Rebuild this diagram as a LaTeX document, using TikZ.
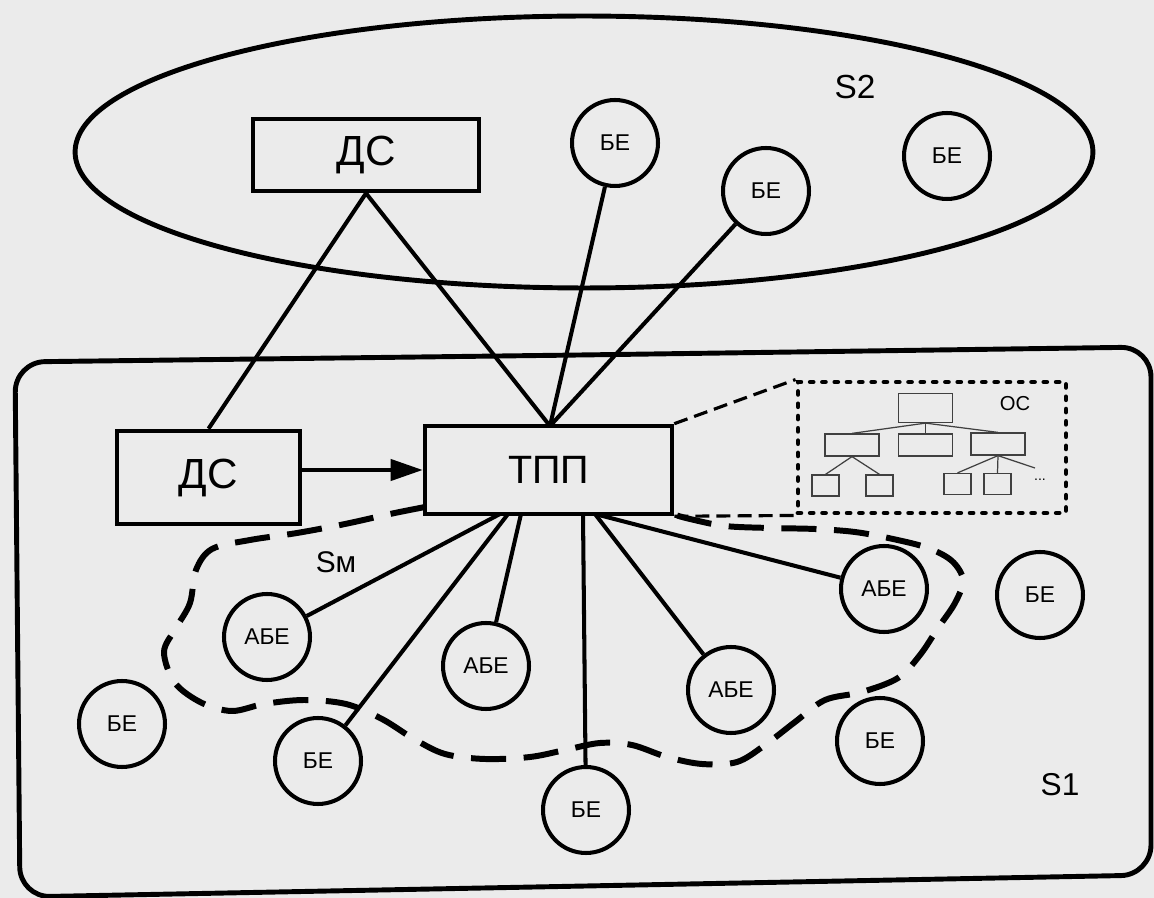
\documentclass[tikz,border=0pt]{standalone}
\usepackage{fontspec}
\setmainfont{Liberation Sans}
\usetikzlibrary{shapes.geometric,arrows.meta}
\begin{document}
\begin{tikzpicture}[x=0.02cm,y=-0.02cm,
  conn/.style={line width=2.3pt},
  bigbox/.style={draw,rectangle,line width=2.6pt,inner sep=0pt},
  circ/.style={draw,circle,line width=2.3pt,minimum size=1.72cm,inner sep=0pt,font=\fontsize{13}{15}\selectfont},
  tbox/.style={draw=black!75,rectangle,line width=0.7pt,inner sep=0pt},
  tline/.style={draw=black!75,line width=0.7pt},
  osdash/.style={line width=2.8pt,line cap=round,dash pattern=on 1.6pt off 5.4pt},
  thindash/.style={line width=1.8pt,dash pattern=on 8pt off 4pt},
  smdash/.style={line width=3.4pt,dash pattern=on 20pt off 10pt}]
\fill[black!8] (0,0) rectangle (1154,898);
\useasboundingbox (0,0) rectangle (1154,898);

% S2 ellipse
\node[draw,ellipse,line width=2.8pt,minimum width=20.36cm,minimum height=5.44cm] (s2) at (584,152) {};
\node[font=\fontsize{19}{22}\selectfont] (s2lab) at (855,87) {S2};

% S1 rounded frame
\draw[line width=2.8pt,rounded corners=0.6cm] (580,355) -- (1151,347) -- (1151,875) -- (20,897) -- (15,362) -- cycle;
\node[font=\fontsize{18}{21}\selectfont] (s1lab) at (1060,785) {S1};

% boxes
\node[bigbox,minimum width=4.52cm,minimum height=1.44cm,font=\fontsize{24}{28}\selectfont] (dstop) at (366,155) {ДС};
\node[bigbox,minimum width=3.66cm,minimum height=1.86cm,font=\fontsize{24}{28}\selectfont] (dslow) at (208.5,477.5) {ДС};
\node[bigbox,minimum width=4.94cm,minimum height=1.76cm,font=\fontsize{22.5}{26}\selectfont] (tpp) at (548.5,470) {ТПП};

% OC box
\node[draw,rectangle,osdash,minimum width=5.36cm,minimum height=2.62cm,inner sep=0pt] (os) at (932,447.5) {};
\node[font=\fontsize{11.5}{13}\selectfont] (oslab) at (1015,404) {ОС};
\node[tbox,minimum width=1.08cm,minimum height=0.58cm] (r) at (925.5,408) {};
\node[tbox,minimum width=1.08cm,minimum height=0.44cm] (ma) at (852,445) {};
\node[tbox,minimum width=1.08cm,minimum height=0.44cm] (mb) at (925.5,445) {};
\node[tbox,minimum width=1.08cm,minimum height=0.44cm] (mc) at (998,444) {};
\node[tbox,minimum width=0.54cm,minimum height=0.42cm] (la) at (825.5,485.5) {};
\node[tbox,minimum width=0.54cm,minimum height=0.42cm] (lb) at (879.5,485.5) {};
\node[tbox,minimum width=0.54cm,minimum height=0.42cm] (lc) at (957.5,484) {};
\node[tbox,minimum width=0.54cm,minimum height=0.42cm] (ld) at (997.5,484) {};
\node[font=\fontsize{8}{9}\selectfont,inner sep=0pt] (dots) at (1040,480) {...};
\coordinate (dt) at (1035,468);
\draw[tline] (r.south) -- (ma.north);
\draw[tline] (r.south) -- (mb.north);
\draw[tline] (r.south) -- (mc.north);
\draw[tline] (ma.south) -- (la.north);
\draw[tline] (ma.south) -- (lb.north);
\draw[tline] (mc.south) -- (lc.north);
\draw[tline] (mc.south) -- (ld.north);
\draw[tline] (mc.south) -- (dt);

% circles
\node[circ] (be1) at (615,143) {БЕ};
\node[circ] (be2) at (766,191) {БЕ};
\node[circ] (be3) at (947,156) {БЕ};
\node[circ] (abe1) at (267,637) {АБЕ};
\node[circ] (be4) at (122,724) {БЕ};
\node[circ] (be5) at (318,761) {БЕ};
\node[circ] (abe2) at (486,666) {АБЕ};
\node[circ] (be6) at (586,810) {БЕ};
\node[circ] (abe3) at (884,589) {АБЕ};
\node[circ] (be7) at (1040,595) {БЕ};
\node[circ] (abe4) at (731,690) {АБЕ};
\node[circ] (be8) at (880,741) {БЕ};

% connection points on TPP
\coordinate (tt) at (550,426);
\coordinate (b1) at (500,514);
\coordinate (b2) at (508,514);
\coordinate (b3) at (521,514);
\coordinate (b4) at (583,514);
\coordinate (b5) at (595,514);

% connectors
\draw[conn] (dstop.south) -- (dslow.north);
\draw[conn] (dstop.south) -- (tt);
\draw[conn] (be1) -- (tt);
\draw[conn] (be2) -- (tt);
\draw[conn,-{Triangle[length=0.64cm,width=0.42cm]}] (dslow.east |- tpp.west) -- (tpp.west);
\draw[conn] (b1) -- (abe1);
\draw[conn] (b2) -- (be5);
\draw[conn] (b3) -- (abe2);
\draw[conn] (b4) -- (be6);
\draw[conn] (b5) -- (abe3);
\draw[conn] (b5) -- (abe4);

% dashed links to OC
\draw[thindash] (tpp.north east) -- (os.north west);
\draw[thindash] (tpp.south east) -- (os.south west);

% Sm loop
\draw[smdash] plot[smooth,tension=0.55] coordinates {
 (425,507) (390,514) (345,524) (297,533) (250,540) (212,549) (196,570) (190,603)
 (176,628) (164,652) (175,683) (202,703) (232,711) (264,704) (304,700) (346,704)
 (382,719) (414,739) (445,754) (485,759) (530,757) (565,750) (600,743) (632,745)
 (667,757) (702,764) (737,762) (765,745) (795,722) (825,700) (862,692) (898,678)
 (920,655) (938,628) (955,603) (963,580) (952,561) (928,548) (893,539) (855,532)
 (815,529) (770,528) (725,526) (690,519) (672,514)};
\node[font=\fontsize{17}{20}\selectfont] (smlab) at (336,562) {Sм};
\end{tikzpicture}
\end{document}
